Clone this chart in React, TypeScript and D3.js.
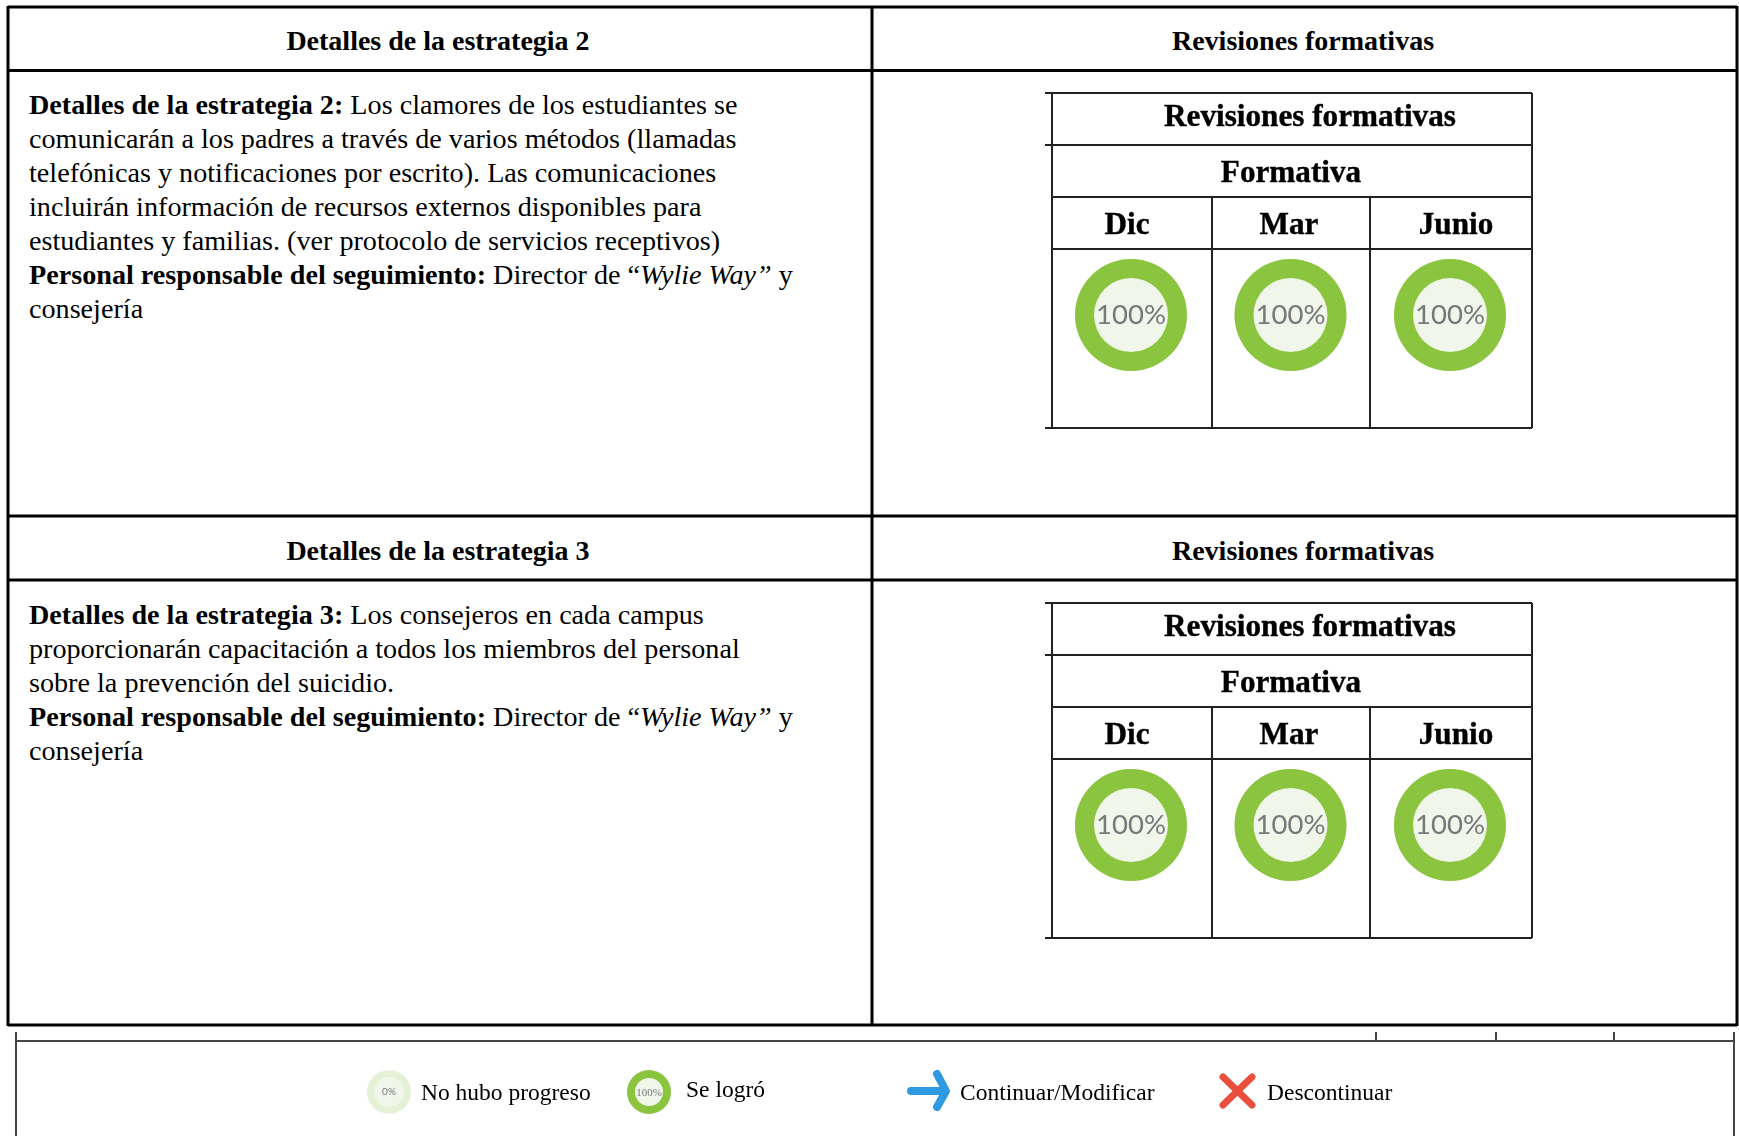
import * as React from 'react';
import * as d3 from 'd3';

const months = ['Dic', 'Mar', 'Junio'];
const strategyHeaders = ['Detalles de la estrategia 2', 'Detalles de la estrategia 3'];
const reviewValues = [
    [100, 100, 100],
    [100, 100, 100],
];

type Run = { t: string, b?: boolean, i?: boolean };

const strategyLines: Run[][][] = [
    [
        [{ t: 'Detalles de la estrategia 2: ', b: true }, { t: 'Los clamores de los estudiantes se' }],
        [{ t: 'comunicarán a los padres a través de varios métodos (llamadas' }],
        [{ t: 'telefónicas y notificaciones por escrito). Las comunicaciones' }],
        [{ t: 'incluirán información de recursos externos disponibles para' }],
        [{ t: 'estudiantes y familias. (ver protocolo de servicios receptivos)' }],
        [{ t: 'Personal responsable del seguimiento: ', b: true }, { t: 'Director de “' }, { t: 'Wylie Way”', i: true }, { t: ' y' }],
        [{ t: 'consejería' }],
    ],
    [
        [{ t: 'Detalles de la estrategia 3: ', b: true }, { t: 'Los consejeros en cada campus' }],
        [{ t: 'proporcionarán capacitación a todos los miembros del personal' }],
        [{ t: 'sobre la prevención del suicidio.' }],
        [{ t: 'Personal responsable del seguimiento: ', b: true }, { t: 'Director de “' }, { t: 'Wylie Way”', i: true }, { t: ' y' }],
        [{ t: 'consejería' }],
    ],
];

const serif = '"Liberation Serif", serif';
const green = '#8bc53f';
const paleGreen = '#e5f1d6';
const centerFill = '#f1f6ea';

const blockOffset = 510;
const cellEdges = [1052, 1212, 1370, 1532];
const labelCenters = [1127, 1289, 1456];
const ringScale = d3.scalePoint<string>().domain(months).range([1131, 1450]);

const pie = d3.pie<number>().sort(null);

function Donut({ x, y, value, outer, inner, fontSize, fontFamily, empty }: {
    x: number, y: number, value: number, outer: number, inner: number,
    fontSize: number, fontFamily: string, empty: string,
}) {
    const arc = d3.arc<d3.PieArcDatum<number>>().innerRadius(inner).outerRadius(outer);
    const slices = pie([value, 100 - value]);
    return <g transform={`translate(${x},${y})`}>
        <circle r={outer} fill={empty} />
        <circle r={inner} fill={centerFill} />
        {value > 0 && <path d={arc(slices[0]) || ''} fill={green} />}
        <text y={fontSize * 0.32} textAnchor="middle" fontFamily={fontFamily} fontSize={fontSize} fill="#77787a">
            {value}%
        </text>
    </g>;
}

function MiniTable({ y, values }: { y: number, values: number[] }) {
    const [left, , , right] = cellEdges;
    const rows = [93, 145, 197, 249, 428].map(d => d + y);
    return <g>
        <g stroke="#222" strokeWidth={2} fill="none">
            {rows.map(r => <line key={r} x1={left} x2={right} y1={r} y2={r} />)}
            <line x1={left - 7} x2={left} y1={rows[0]} y2={rows[0]} />
            <line x1={left - 7} x2={left} y1={rows[1]} y2={rows[1]} />
            <line x1={left - 7} x2={left} y1={rows[4]} y2={rows[4]} />
            <line x1={left} x2={left} y1={rows[0]} y2={rows[4]} />
            <line x1={right} x2={right} y1={rows[0]} y2={rows[4]} />
            {cellEdges.slice(1, 3).map(e => <line key={e} x1={e} x2={e} y1={rows[2]} y2={rows[4]} />)}
        </g>
        <g fontFamily={serif} fontWeight="bold" fontSize={31.2} fill="#000" stroke="#000" strokeWidth={0.4} textAnchor="middle" filter="url(#soft)">
            <text x={1310} y={126 + y}>Revisiones formativas</text>
            <text x={1291} y={182 + y}>Formativa</text>
            {months.map((m, i) => <text key={m} x={labelCenters[i]} y={234 + y}>{m}</text>)}
        </g>
        <g filter="url(#soft)">
            {months.map((m, i) => (
                <Donut key={m} x={ringScale(m) || 0} y={315 + y} value={values[i]}
                    outer={56} inner={37} fontSize={27.5} fontFamily='Lato, sans-serif' empty={paleGreen} />
            ))}
        </g>
    </g>;
}

function Block({ index }: { index: number }) {
    const y = index * blockOffset;
    return <g>
        <g fontFamily={serif} fontWeight="bold" fontSize={28} textAnchor="middle" fill="#000">
            <text x={438} y={50 + y}>{strategyHeaders[index]}</text>
            <text x={1303} y={50 + y}>Revisiones formativas</text>
        </g>
        <g fontFamily={serif} fontSize={28.17} fill="#000">
            {strategyLines[index].map((runs, i) => (
                <text key={i} x={29} y={114 + y + i * 34}>
                    {runs.map((r, j) => (
                        <tspan key={j} fontWeight={r.b ? 'bold' : 'normal'} fontStyle={r.i ? 'italic' : 'normal'}>{r.t}</tspan>
                    ))}
                </text>
            ))}
        </g>
        <MiniTable y={y} values={reviewValues[index]} />
    </g>;
}

export default function App() {
    const frameRows = [7, 70.5, 516, 580, 1025];
    return <svg width={1739} height={1136} style={{ position: 'absolute', left: 0, top: 0, background: '#fff' }}>
        <defs>
            <filter id="soft" x="-5%" y="-5%" width="110%" height="110%">
                <feGaussianBlur stdDeviation={0.55} />
            </filter>
        </defs>

        <g stroke="#000" strokeWidth={3}>
            {frameRows.map(r => <line key={r} x1={8} x2={1737} y1={r} y2={r} />)}
            {[8, 872, 1737].map(x => <line key={x} x1={x} x2={x} y1={6} y2={1026} />)}
        </g>

        {strategyHeaders.map((h, i) => <Block key={h} index={i} />)}

        <g stroke="#444" strokeWidth={2} fill="none">
            <line x1={16} x2={1734} y1={1041} y2={1041} />
            <line x1={16} x2={16} y1={1032} y2={1136} />
            <line x1={1734} x2={1734} y1={1032} y2={1136} />
            {[1376, 1496, 1614].map(x => <line key={x} x1={x} x2={x} y1={1032} y2={1041} />)}
        </g>

        <g filter="url(#soft)">
            <Donut x={389} y={1092} value={0} outer={22} inner={15} fontSize={10} fontFamily='Lato, sans-serif' empty={paleGreen} />
            <Donut x={649} y={1092} value={100} outer={22} inner={14} fontSize={11} fontFamily={serif} empty={paleGreen} />
            <g fill="none" stroke="#2e9ae2" strokeWidth={8} strokeLinecap="round" strokeLinejoin="round">
                <path d="M911,1091H945M937,1074L946,1091L937,1107" />
            </g>
            <g fill="none" stroke="#ea503c" strokeWidth={7} strokeLinecap="round">
                <path d="M1223,1077L1252,1105M1252,1077L1223,1105" />
            </g>
        </g>
        <g fontFamily={serif} fontSize={23.5} fill="#000" filter="url(#soft)">
            <text x={421} y={1100}>No hubo progreso</text>
            <text x={686} y={1097}>Se logró</text>
            <text x={960} y={1100}>Continuar/Modificar</text>
            <text x={1267} y={1100}>Descontinuar</text>
        </g>
    </svg>;
}
